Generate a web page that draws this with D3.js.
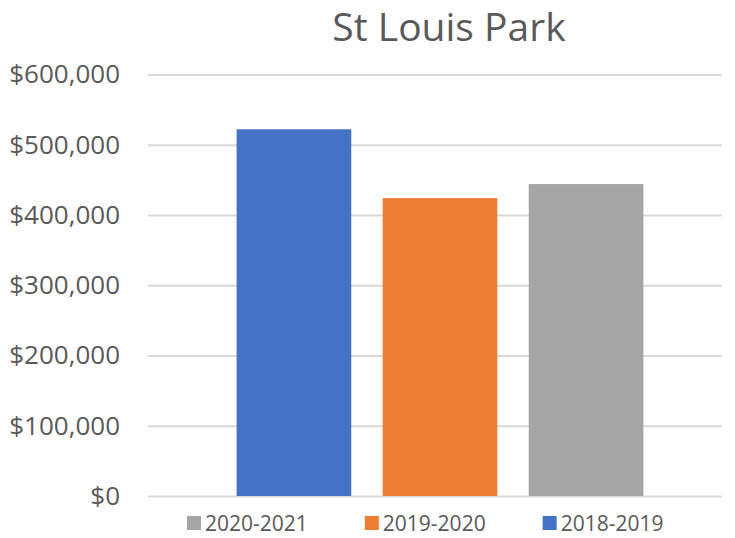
<!DOCTYPE html>
<html><head><meta charset="utf-8">
<script src="https://cdn.jsdelivr.net/npm/d3@7"></script>
<style>body{margin:0;background:#fff}svg{display:block}</style>
</head><body>
<svg id="c" width="735" height="538"></svg>
<script>
const title = "St Louis Park";
const series = ["2018-2019", "2019-2020", "2020-2021"];
const values = [522000, 424000, 444000];
const colors = ["#4472C4", "#ED7D31", "#A5A5A5"];
const legendOrder = ["2020-2021", "2019-2020", "2018-2019"];
const yTicks = [0, 100000, 200000, 300000, 400000, 500000, 600000];

(function () {
const font = "'Open Sans', sans-serif";
const svg = d3.select("#c");
const pLeft = 148, pRight = 722, pTop = 74.5, pBottom = 496;

const y = d3.scaleLinear().domain([0, 600000]).range([pBottom, pTop]);
const x = d3.scaleBand().domain(series).range([222, 658]).paddingInner(0.215).paddingOuter(0.1);
const color = d3.scaleOrdinal().domain(series).range(colors);

svg.append("text").attr("x", 449).attr("y", 41).attr("text-anchor", "middle")
  .attr("font-family", font).attr("font-size", 39).attr("fill", "#595959").text(title);

const fmt = v => "$" + d3.format(",")(v);
const yAxis = d3.axisLeft(y).tickValues(yTicks).tickFormat(fmt).tickSize(-(pRight - pLeft)).tickPadding(28);
const g = svg.append("g").attr("transform", `translate(${pLeft},0)`).call(yAxis);
g.select(".domain").remove();
g.selectAll(".tick line").attr("stroke", "#D9D9D9").attr("stroke-width", 2);
g.selectAll(".tick text").attr("font-family", font).attr("font-size", 26).attr("fill", "#595959");

svg.append("g").selectAll("rect").data(series).join("rect")
  .attr("x", d => x(d)).attr("width", x.bandwidth())
  .attr("y", (d, i) => y(values[i])).attr("height", (d, i) => y(0) - y(values[i]))
  .attr("fill", d => color(d));

const lg = svg.append("g");
let lx = 187;
legendOrder.forEach(s => {
  lg.append("rect").attr("x", lx).attr("y", 516).attr("width", 14).attr("height", 14).attr("fill", color(s));
  const t = lg.append("text").attr("x", lx + 18).attr("y", 531).attr("font-family", font)
    .attr("font-size", 21).attr("fill", "#595959").text(s);
  lx += 18 + t.node().getComputedTextLength() + 57;
});
})();
</script>
</body></html>
